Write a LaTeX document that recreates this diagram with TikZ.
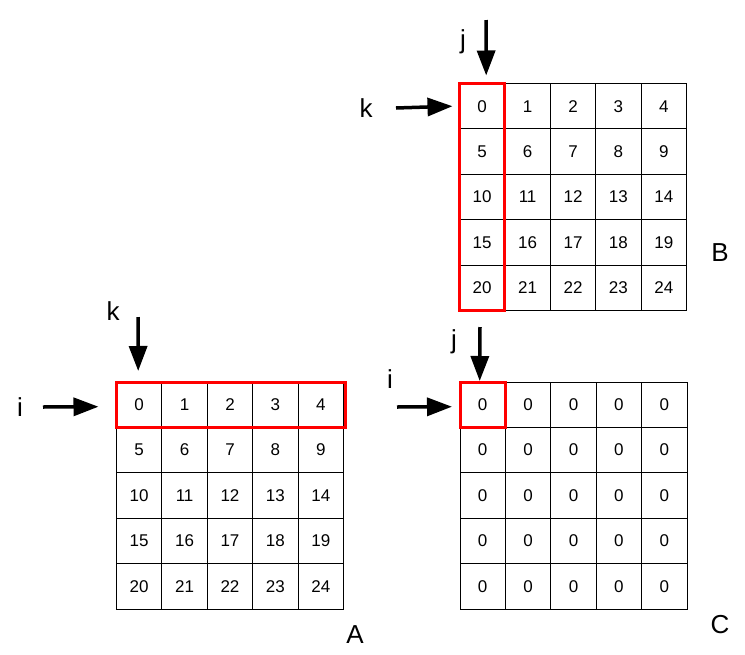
\documentclass[tikz,border=0pt]{standalone}
\usepackage{fontspec}
\setmainfont{Liberation Sans}
\usetikzlibrary{arrows.meta,positioning}
\tikzset{
  cell/.style={draw,line width=1pt,minimum size=45.4pt,inner sep=0pt,outer sep=0pt,
    font=\fontsize{17}{20}\selectfont},
  hilite/.style={draw=red,line width=3pt},
  ptr/.style={-{Triangle[length=25pt,width=18pt]},line width=3.5pt},
  lbl/.style={font=\fontsize{26}{30}\selectfont,inner sep=0pt}
}

\begin{document}
\begin{tikzpicture}[x=1pt,y=-1pt]
\useasboundingbox (0,0) rectangle (745,654);
% matrix A
\foreach \r in {0,...,4}
  \foreach \c in {0,...,4} {
    \pgfmathtruncatemacro\n{5*\r+\c}
    \node[cell] (A\n) at ({116.5+45.4*(\c+.5)},{382+45.4*(\r+.5)}) {\n};
  }
% matrix B
\foreach \r in {0,...,4}
  \foreach \c in {0,...,4} {
    \pgfmathtruncatemacro\n{5*\r+\c}
    \node[cell] (B\n) at ({459.5+45.4*(\c+.5)},{83.5+45.4*(\r+.5)}) {\n};
  }
% matrix C
\foreach \r in {0,...,4}
  \foreach \c in {0,...,4} {
    \pgfmathtruncatemacro\n{5*\r+\c}
    \node[cell] (C\n) at ({460+45.4*(\c+.5)},{382+45.4*(\r+.5)}) {0};
  }
\draw[hilite] (A0.north west) rectangle ([xshift=2pt]A4.south east);
\draw[hilite] (B0.north west) rectangle (B20.south east);
\draw[hilite] (C0.north west) rectangle (C0.south east);
% pointers
\coordinate (kAs) at (138,317); \coordinate (iAs) at (43,407);
\coordinate (jBs) at (486,20);  \coordinate (kBs) at (396,108);
\coordinate (jCs) at (480,327); \coordinate (iCs) at (397,407);
\draw[ptr] (kAs) -- ([xshift=-1pt,yshift=11pt]A0.north);
\draw[ptr] (iAs) -- ([xshift=-18pt,yshift=-2pt]A0.west);
\draw[ptr] (jBs) -- ([xshift=4pt,yshift=8pt]B0.north);
\draw[ptr] (kBs) -- ([xshift=-7pt]B0.west);
\draw[ptr] (jCs) -- ([xshift=-3pt,yshift=1pt]C0.north);
\draw[ptr] (iCs) -- ([xshift=-8pt,yshift=-2pt]C0.west);
\node[lbl] (kA) at (113,311) {k};
\node[lbl] (iA) at (20,407) {i};
\node[lbl] (jB) at (463,42) {j};
\node[lbl] (kB) at (366,108) {k};
\node[lbl] (jC) at (454,342) {j};
\node[lbl] (iC) at (390,379) {i};
\node[lbl] (labA) at (355,635) {A};
\node[lbl] (labB) at (720,253) {B};
\node[lbl] (labC) at (720,625) {C};
\end{tikzpicture}
\end{document}
